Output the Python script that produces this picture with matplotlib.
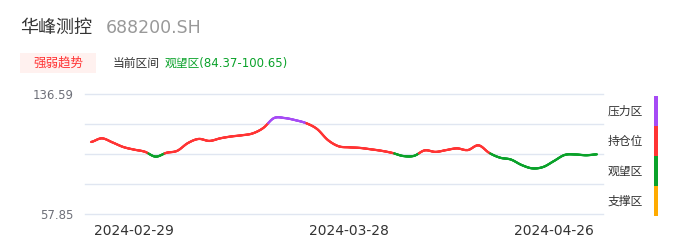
import numpy as np
import matplotlib
matplotlib.use('Agg')
import matplotlib.pyplot as plt
from matplotlib.collections import LineCollection

plt.rcParams['font.family'] = ['DejaVu Sans', 'Noto Sans CJK SC']

# data
dates = ['2024-02-23', '2024-02-26', '2024-02-27', '2024-02-28', '2024-02-29', '2024-03-01',
         '2024-03-04', '2024-03-05', '2024-03-06', '2024-03-07', '2024-03-08',
         '2024-03-11', '2024-03-12', '2024-03-13', '2024-03-14', '2024-03-15',
         '2024-03-18', '2024-03-19', '2024-03-20', '2024-03-21', '2024-03-22',
         '2024-03-25', '2024-03-26', '2024-03-27', '2024-03-28', '2024-03-29',
         '2024-04-01', '2024-04-02', '2024-04-03', '2024-04-08', '2024-04-09',
         '2024-04-10', '2024-04-11', '2024-04-12', '2024-04-15', '2024-04-16',
         '2024-04-17', '2024-04-18', '2024-04-19', '2024-04-22', '2024-04-23',
         '2024-04-24', '2024-04-25', '2024-04-26', '2024-04-29', '2024-04-30',
         '2024-05-06', '2024-05-07']
prices = [105.1, 107.5, 104.8, 101.8, 100.1, 98.7, 95.5, 98.0, 99.3, 104.4,
          107.1, 105.8, 107.5, 108.7, 109.5, 110.7, 114.3, 120.8, 120.8, 119.4,
          117.4, 113.6, 106.4, 102.3, 101.6, 101.2, 100.3, 99.3, 97.9, 95.9,
          96.0, 99.6, 98.6, 99.8, 100.9, 99.8, 102.9, 97.9, 94.8, 93.6,
          90.0, 87.8, 88.7, 92.6, 96.6, 96.9, 96.4, 97.0]
tick_dates = ['2024-02-29', '2024-03-28', '2024-04-26']
y_min, y_max = 57.85, 136.59

# zone colours (visual map) and legend
zone_names = ['压力区', '持仓位', '观望区', '支撑区']
zone_colors = ['#a64bf5', '#ff3434', '#0aa22a', '#ffab00']
upper_cut = 117.4   # above: pressure zone
lower_cut = 97.6    # below: watch zone

fig = plt.figure(figsize=(6.86, 2.47), dpi=100)
W, H = 686, 247
ax = fig.add_axes([85 / W, 33 / H, (603 - 85) / W, 120 / H])

# smooth curve (Catmull-Rom) through the daily points
x = np.arange(len(prices))
p = np.array(prices)
pp = np.concatenate([[p[0]], p, [p[-1]]])
xs, ys = [], []
t = np.linspace(0, 1, 25)[:-1]
for i in range(len(p) - 1):
    p0, p1, p2, p3 = pp[i], pp[i + 1], pp[i + 2], pp[i + 3]
    seg = 0.5 * ((2 * p1) + (-p0 + p2) * t + (2 * p0 - 5 * p1 + 4 * p2 - p3) * t ** 2
                 + (-p0 + 3 * p1 - 3 * p2 + p3) * t ** 3)
    xs.extend(i + t)
    ys.extend(seg)
xs.append(x[-1])
ys.append(p[-1])
xs, ys = np.array(xs), np.array(ys)

pts = np.column_stack([xs, ys]).reshape(-1, 1, 2)
segs = np.concatenate([pts[:-1], pts[1:]], axis=1)
mid = (ys[:-1] + ys[1:]) / 2
cols = np.where(mid > upper_cut, zone_colors[0],
                np.where(mid > lower_cut, zone_colors[1], zone_colors[2]))
lc = LineCollection(segs, colors=cols, linewidths=1.6, capstyle='round', zorder=3)
ax.add_collection(lc)

ax.set_xlim(-0.56, len(prices) - 1 + 0.56)
ax.set_ylim(y_min, y_max)
for v in np.linspace(y_min, y_max, 5):
    ax.axhline(v, color='#e0e6f1', lw=1, zorder=1, clip_on=False)
ax.set_yticks([y_min, y_max])
ax.set_yticklabels(['%.2f' % y_min, '%.2f' % y_max], color='#6e7079', fontsize=8.5)
ax.set_xticks([dates.index(d) for d in tick_dates])
ax.set_xticklabels(tick_dates, color='#333333', fontsize=10)
ax.tick_params(length=0, pad=7)
ax.tick_params(axis='y', pad=8)
for s in ax.spines.values():
    s.set_visible(False)

# header texts
fig.text(20 / W, 1 - 28 / H, '华峰测控', fontsize=13, color='#333333', va='center')
fig.text(106 / W, 1 - 28 / H, '688200.SH', fontsize=12.5, color='#999999', va='center')
fig.patches.append(plt.Rectangle((20 / W, 1 - 73 / H), 76 / W, 20 / H,
                                 transform=fig.transFigure, color='#fff1ef', lw=0))
fig.text(58 / W, 1 - 63 / H, '强弱趋势', fontsize=9, color='#ff3434', va='center', ha='center')
fig.text(113 / W, 1 - 63 / H, '当前区间', fontsize=8.5, color='#333333', va='center')
fig.text(165 / W, 1 - 63 / H, '观望区(84.37-100.65)', fontsize=8.5, color='#0aa22a', va='center')

# right-side zone legend
bar_top = 96
for k, (name, c) in enumerate(zip(zone_names, zone_colors)):
    y0 = bar_top + k * 30
    fig.patches.append(plt.Rectangle((654 / W, 1 - (y0 + 30) / H), 4 / W, 30 / H,
                                     transform=fig.transFigure, color=c, lw=0))
    fig.text(643 / W, 1 - (y0 + 15) / H, name, fontsize=8.5, color='#333333',
             va='center', ha='right')

fig.savefig('out.png', dpi=100)
